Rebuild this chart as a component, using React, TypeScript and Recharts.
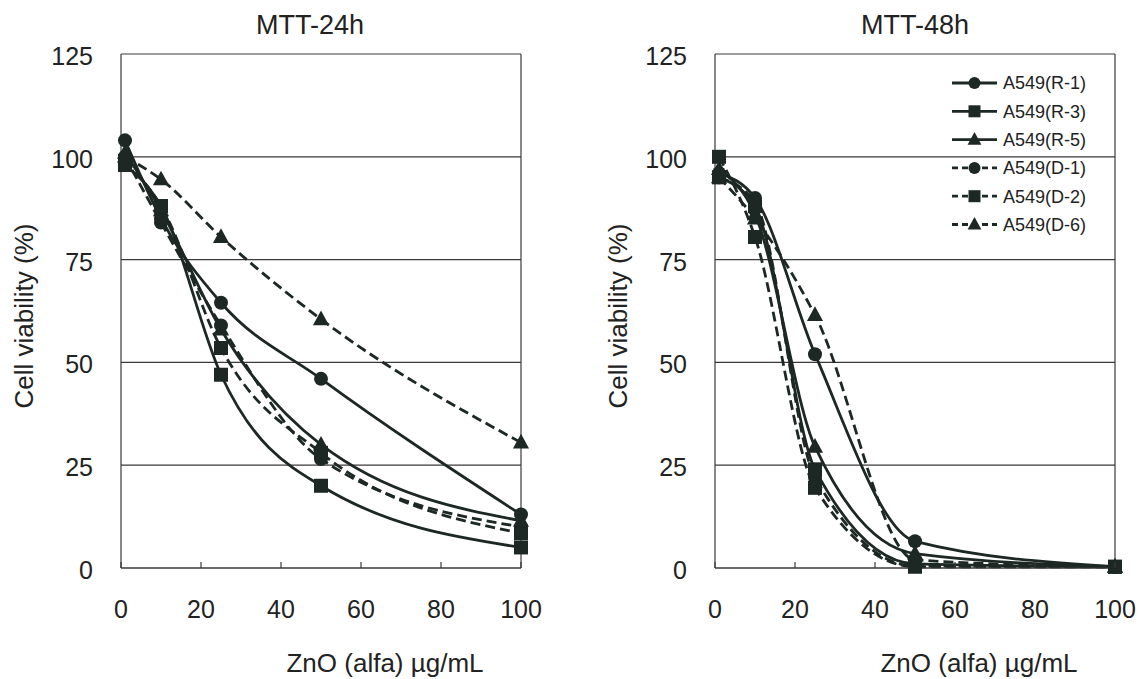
import React from 'react'
import {
  LineChart, Line, XAxis, YAxis, CartesianGrid,
  ReferenceLine, Legend, Label,
} from 'recharts'

const INK  = '#1d2824'
const GRID = '#3a3a3a'
const FONT = '"Liberation Sans", Arial, sans-serif'

// doses (µg/mL) and axis ticks
const doses  = [1, 10, 25, 50, 100]
const xTicks = [0, 20, 40, 60, 80, 100]
const yTicks = [0, 25, 50, 75, 100, 125]

// MTT-24h, cell viability (%)
const r1_24 = [104, 85, 64.5, 46, 13]
const r3_24 = [98, 88, 47, 20, 5]
const r5_24 = [101, 87, 58, 30, 11.5]
const d1_24 = [100, 84, 59, 26.5, 10]
const d2_24 = [99, 88, 53.5, 28, 8.5]
const d6_24 = [100, 94.5, 80.5, 60.5, 30.5]

// MTT-48h, cell viability (%)
const r1_48 = [96, 90, 52, 6.5, 0.3]
const r3_48 = [95, 88, 24, 1, 0.3]
const r5_48 = [97, 86, 29.5, 3.5, 0.3]
const d1_48 = [95, 89, 22, 0.5, 0.3]
const d2_48 = [100, 80.5, 19.5, 0.3, 0.3]
const d6_48 = [95, 85, 61.5, 2, 0.3]

type Shape = 'circle' | 'square' | 'triangle'

const seriesDefs: { key: string; name: string; shape: Shape; dashed: boolean }[] = [
  { key: 'r1', name: 'A549(R-1)', shape: 'circle',   dashed: false },
  { key: 'r3', name: 'A549(R-3)', shape: 'square',   dashed: false },
  { key: 'r5', name: 'A549(R-5)', shape: 'triangle', dashed: false },
  { key: 'd1', name: 'A549(D-1)', shape: 'circle',   dashed: true },
  { key: 'd2', name: 'A549(D-2)', shape: 'square',   dashed: true },
  { key: 'd6', name: 'A549(D-6)', shape: 'triangle', dashed: true },
]

const buildRows = (cols: Record<string, number[]>) =>
  doses.map((dose, i) => {
    const row: Record<string, number> = { dose }
    Object.keys(cols).forEach(k => { row[k] = cols[k][i] })
    return row
  })

const rows24 = buildRows({ r1: r1_24, r3: r3_24, r5: r5_24, d1: d1_24, d2: d2_24, d6: d6_24 })
const rows48 = buildRows({ r1: r1_48, r3: r3_48, r5: r5_48, d1: d1_48, d2: d2_48, d6: d6_48 })

function Marker({ cx, cy, shape, s = 7 }: { cx?: number; cy?: number; shape: Shape; s?: number }) {
  if (cx == null || cy == null) return null
  if (shape === 'circle') return <circle cx={cx} cy={cy} r={s} fill={INK} />
  if (shape === 'square') return <rect x={cx - s} y={cy - s} width={s * 2} height={s * 2} fill={INK} />
  return (
    <polygon
      points={`${cx},${cy - s * 1.25} ${cx + s * 1.15},${cy + s * 0.85} ${cx - s * 1.15},${cy + s * 0.85}`}
      fill={INK}
    />
  )
}

function XTick({ x, y, payload }: any) {
  return (
    <g>
      <line x1={x} x2={x} y1={y} y2={y - 6} stroke={GRID} strokeWidth={1.2} />
      <text x={x} y={y + 32} dy="0.71em" textAnchor="middle" fontSize={25} fill="#222" fontFamily={FONT}>
        {payload.value}
      </text>
    </g>
  )
}

function YTick({ x, y, payload }: any) {
  return (
    <text x={x} y={y} textAnchor="end" fontSize={25} fill="#222" fontFamily={FONT}>
      <tspan dy="0.44em">{payload.value}</tspan>
    </text>
  )
}

function LegendBox() {
  return (
    <svg width={170} height={175}>
      {seriesDefs.map((s, i) => {
        const cy = 13 + i * 28.3
        return (
          <g key={s.key}>
            <line
              x1={0} x2={45} y1={cy} y2={cy}
              stroke={INK} strokeWidth={2.8}
              strokeDasharray={s.dashed ? '6 4' : undefined}
            />
            <Marker cx={22.5} cy={cy} shape={s.shape} s={6} />
            <text x={51} y={cy} dy="0.35em" fontSize={18} fill="#222" fontFamily={FONT}>{s.name}</text>
          </g>
        )
      })}
    </svg>
  )
}

function Panel({ title, titleX, rows, left, showLegend }: {
  title: string; titleX: number; rows: Record<string, number>[]; left: number; showLegend?: boolean
}) {
  return (
    <div style={{ position: 'absolute', left, top: 0, width: 546, height: 679 }}>
      <div style={{
        position: 'absolute', top: 10, left: titleX - 100, width: 200, textAlign: 'center',
        fontFamily: FONT, fontSize: 27, lineHeight: '30px', color: '#222',
      }}>
        {title}
      </div>
      <LineChart width={546} height={679} data={rows} margin={{ top: 54, right: 25, bottom: 51, left: 21 }}>
        <CartesianGrid vertical={false} stroke={GRID} strokeWidth={1.2} />
        <XAxis
          type="number" dataKey="dose" domain={[0, 100]} ticks={xTicks}
          tick={<XTick />} tickLine={false} tickSize={0} tickMargin={0}
          axisLine={{ stroke: GRID, strokeWidth: 1.2 }} height={60}
        >
          <Label
            content={({ viewBox }: any) => (
              <text
                x={viewBox.x + viewBox.width / 2 + 64} y={viewBox.y + 95} dy="0.35em"
                textAnchor="middle" fontSize={26} fill="#222" fontFamily={FONT}
              >
                ZnO (alfa) µg/mL
              </text>
            )}
          />
        </XAxis>
        <YAxis
          type="number" domain={[0, 125]} ticks={yTicks}
          tick={<YTick />} tickLine={false} tickSize={0} tickMargin={28}
          axisLine={{ stroke: GRID, strokeWidth: 1.2 }} width={100}
        >
          <Label
            content={({ viewBox }: any) => {
              const cx = viewBox.x + 3
              const cy = viewBox.y + viewBox.height / 2 + 5
              return (
                <text
                  x={cx} y={cy} dy="0.35em" transform={`rotate(-90 ${cx} ${cy})`}
                  textAnchor="middle" fontSize={26} fill="#222" fontFamily={FONT}
                >
                  Cell viability (%)
                </text>
              )
            }}
          />
        </YAxis>
        <ReferenceLine x={100} stroke={GRID} strokeWidth={1.2} />
        {seriesDefs.map(s => (
          <Line
            key={s.key}
            type="monotone"
            dataKey={s.key}
            name={s.name}
            stroke={INK}
            strokeWidth={2.8}
            strokeDasharray={s.dashed ? '10 5' : undefined}
            dot={(p: any) => <Marker key={`${s.key}-${p.index}`} cx={p.cx} cy={p.cy} shape={s.shape} />}
            activeDot={false}
            isAnimationActive={false}
          />
        ))}
        {showLegend && (
          <Legend
            layout="horizontal" verticalAlign="middle" align="center"
            content={() => <LegendBox />}
            wrapperStyle={{ left: 358, top: 70, width: 170, height: 175 }}
          />
        )}
      </LineChart>
    </div>
  )
}

export default function App() {
  return (
    <div style={{ position: 'absolute', left: 0, top: 0, width: 1140, height: 679, background: '#fff' }}>
      <Panel title="MTT-24h" titleX={310} rows={rows24} left={0} />
      <Panel title="MTT-48h" titleX={321} rows={rows48} left={594} showLegend />
    </div>
  )
}
